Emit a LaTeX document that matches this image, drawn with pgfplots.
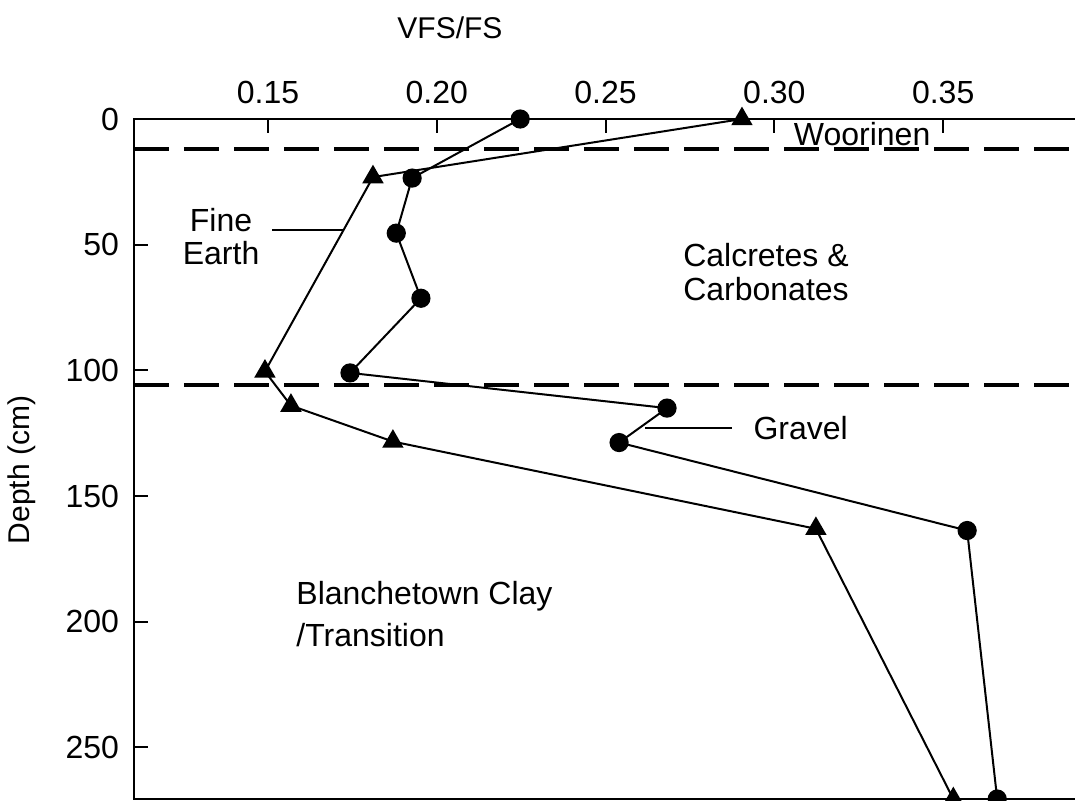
\documentclass[border=0pt]{standalone}
\usepackage{fontspec}
\setmainfont{Liberation Sans}
\usepackage{pgfplots}
\pgfplotsset{compat=1.18}
\begin{document}
\fontsize{16}{19}\selectfont
\begin{tikzpicture}
\path[use as bounding box] (-67pt,-0.5pt) rectangle (470.5pt,399.5pt);
\begin{axis}[
  at={(0,0)}, anchor=south west,
  scale only axis, width=473pt, height=340pt,
  xmin=0.11031, xmax=0.39053,
  ymin=0, ymax=270.5, y dir=reverse,
  axis line style={line width=1pt},
  xtick={0.15,0.20,0.25,0.30,0.35},
  ytick={0,50,100,150,200,250},
  xtick pos=upper, xticklabel pos=upper,
  ytick pos=left,
  tick align=inside,
  major tick length=7pt,
  tick style={line width=1pt, black},
  /pgf/number format/assume math mode=true,
  xticklabel style={/pgf/number format/fixed, /pgf/number format/fixed zerofill, /pgf/number format/precision=2, yshift=2pt},
  yticklabel style={xshift=-2pt},
  xlabel={VFS/FS},
  xlabel style={at={(axis description cs:0.334,1.134)}, anchor=center, font=\fontsize{15}{18}\selectfont},
  ylabel={Depth (cm)},
  ylabel style={at={(axis description cs:-0.1184,0.4838)}, anchor=center, font=\fontsize{15}{18}\selectfont},
  clip=false,
  every axis plot/.append style={black, line width=1pt},
]
% dashed horizon boundaries
\addplot[line width=2pt, dash pattern=on 17.5pt off 7.5pt] coordinates {(0.11031,12) (0.39053,12)};
\addplot[line width=2pt, dash pattern=on 17.5pt off 7.5pt] coordinates {(0.11031,106) (0.39053,106)};
% gravel (circles)
\addplot[mark=*, mark size=4.3pt] coordinates {
  (0.2247,0) (0.1927,23.5) (0.1880,45.4) (0.1953,71.3) (0.1743,101)
  (0.2682,115) (0.2540,128.7) (0.3571,163.7) (0.3660,270.5)};
% fine earth (triangles)
\addplot[mark=triangle*, mark size=5.2pt] coordinates {
  (0.2904,0) (0.1811,23.1) (0.1491,100.4) (0.1568,114) (0.1870,128.3)
  (0.3123,163) (0.3530,270.5)};
% leader lines
\addplot[mark=none] coordinates {(0.1512,44.2) (0.1722,44.2)};
\addplot[mark=none] coordinates {(0.2617,123.1) (0.2874,123.1)};
% annotations
\node at (axis cs:0.326,6) {Woorinen};
\node[anchor=west, inner xsep=0pt, align=left, font=\fontsize{16}{17}\selectfont] at (axis cs:0.2729,61) {Calcretes \&\\Carbonates};
\node[align=center, font=\fontsize{16}{16.5}\selectfont] at (axis cs:0.1361,46.6) {Fine\\Earth};
\node[anchor=west, inner xsep=0pt] at (axis cs:0.2937,123.1) {Gravel};
\node[anchor=west, inner xsep=0pt, align=left, font=\fontsize{16}{21}\selectfont] at (axis cs:0.1583,196.8) {Blanchetown Clay\\/Transition};
\end{axis}
\end{tikzpicture}
\end{document}
